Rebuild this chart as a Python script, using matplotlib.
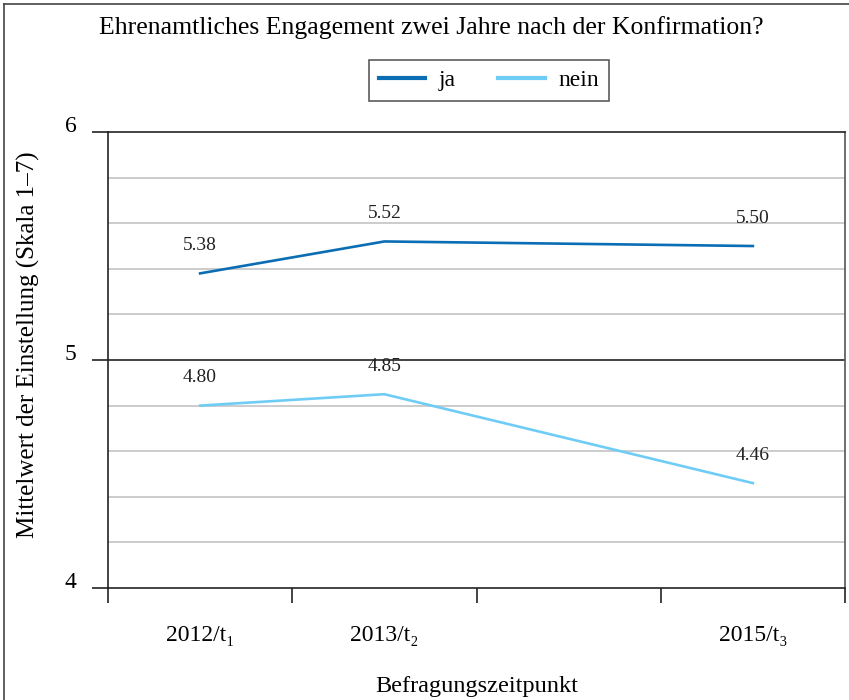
import numpy as np
import matplotlib
matplotlib.use('Agg')
import matplotlib.pyplot as plt
from matplotlib.lines import Line2D
from matplotlib.ticker import FixedLocator

plt.rcParams['font.family'] = ['Liberation Serif', 'DejaVu Serif']

# Daten
labels = ['2012/t\u2081', '2013/t\u2082', '', '2015/t\u2083']
ja = [5.38, 5.52, 5.50]
nein = [4.80, 4.85, 4.46]
idx = [0, 1, 3]  # Position der Zeitpunkte (2014 leer)

fig = plt.figure(figsize=(8.49, 7.0), dpi=100)
ax = fig.add_axes([0.1272, 0.16, 0.9953 - 0.1272, 0.8114 - 0.16])

xpos = np.array(idx) + 0.5
c_ja = '#0b6db3'
c_nein = '#6fcdf5'
ax.plot(xpos, ja, color=c_ja, lw=1.9, label='ja', zorder=3)
ax.plot(xpos, nein, color=c_nein, lw=1.9, label='nein', zorder=3)

for x, v in zip(xpos, ja):
    ax.annotate(f'{v:.2f}', (x, v), xytext=(0, 20), textcoords='offset points',
                ha='center', va='center', fontsize=14, color='#222222')
for x, v in zip(xpos, nein):
    ax.annotate(f'{v:.2f}', (x, v), xytext=(0, 20), textcoords='offset points',
                ha='center', va='center', fontsize=14, color='#222222')

ax.set_xlim(0, 4)
ax.set_ylim(4, 6)

# Gitter
for y in np.arange(4.2, 6.0, 0.2):
    if abs(y - 5) < 1e-6:
        continue
    ax.axhline(y, color='#c4c4c4', lw=1.2, zorder=1)
ax.axhline(5, color='#222222', lw=1.2, zorder=2)

for s in ['left', 'bottom', 'top', 'right']:
    ax.spines[s].set_color('#222222')
    ax.spines[s].set_linewidth(1.2)
ax.spines['right'].set_color('#555555')

ax.yaxis.set_major_locator(FixedLocator([4, 5, 6]))
ax.set_yticklabels(['4', '5', '6'])
ax.tick_params(axis='y', length=11.5, width=1.2, color='#222222', pad=11, labelsize=17)
for t in ax.get_yticklabels():
    t.set_verticalalignment('baseline')

ax.xaxis.set_major_locator(FixedLocator([0, 1, 2, 3, 4]))
ax.xaxis.set_minor_locator(FixedLocator([0.5, 1.5, 2.5, 3.5]))
ax.set_xticklabels([], minor=False)
ax.set_xticklabels(labels, minor=True)
ax.tick_params(axis='x', which='major', length=11, width=1.2, color='#222222')
ax.tick_params(axis='x', which='minor', length=0, pad=27, labelsize=17)

ax.set_xlabel('Befragungszeitpunkt', fontsize=17.5)
ax.xaxis.set_label_coords(0.5, -0.215)
ax.xaxis.label.set_verticalalignment('center')
ax.set_ylabel('Mittelwert der Einstellung (Skala 1\u20137)', fontsize=18)
ax.yaxis.set_label_coords(-0.1085, 0.533)
ax.yaxis.label.set_verticalalignment('center')

fig.text(0.508, 0.961, 'Ehrenamtliches Engagement zwei Jahre nach der Konfirmation?',
         ha='center', va='center', fontsize=18.5)

leg = fig.legend(loc='center', bbox_to_anchor=(0.576, 0.885), ncol=2, frameon=True,
                 fancybox=False, edgecolor='#333333', fontsize=17, handlelength=1.95,
                 columnspacing=1.8, borderpad=0.4, handletextpad=0.6, borderaxespad=0)
leg.get_frame().set_linewidth(1.2)
for h in leg.get_lines():
    h.set_linewidth(3)

# Rahmen um die Grafik
fig.add_artist(Line2D([0.005, 0.005], [0, 0.994], transform=fig.transFigure, color='#444444', lw=1.2))
fig.add_artist(Line2D([0.005, 1.0], [0.994, 0.994], transform=fig.transFigure, color='#444444', lw=1.2))

fig.savefig('out.png', dpi=100)
